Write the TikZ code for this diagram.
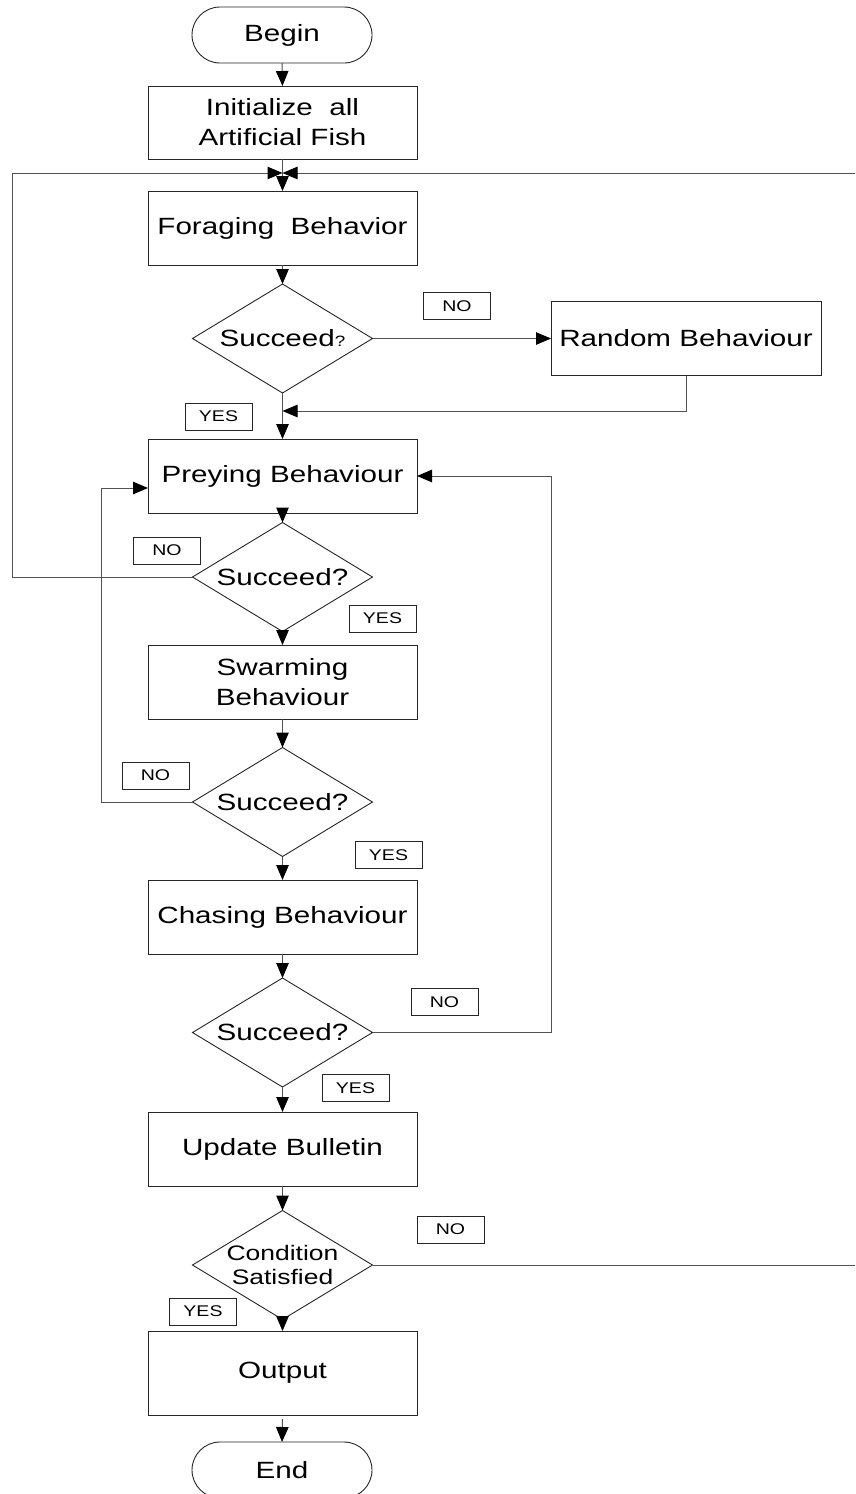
\documentclass[tikz,border=0pt]{standalone}
\usepackage{fontspec}
\setmainfont{Liberation Sans}[FakeStretch=1.26]
\usetikzlibrary{shapes.geometric,arrows.meta}
\begin{document}
\begin{tikzpicture}[x=1pt,y=-1pt,
  every node/.style={inner sep=0pt, outer sep=0pt},
  procbox/.style={draw=black!85, line width=0.9pt, minimum width=269pt, minimum height=74pt, align=center, font=\fontsize{23.5}{30}\selectfont},
  termbox/.style={draw=black!85, line width=0.9pt, rectangle, rounded corners=28pt, minimum width=180pt, minimum height=56pt, font=\fontsize{23.5}{30}\selectfont},
  decbox/.style={draw=black!85, line width=0.9pt, diamond, aspect=1.65, minimum width=180pt, minimum height=109pt, align=center, font=\fontsize{23.5}{30}\selectfont},
  tagbox/.style={draw=black!85, line width=0.9pt, minimum width=67pt, minimum height=27pt, font=\fontsize{15.5}{18}\selectfont},
  conn/.style={draw=black!68, line width=1pt},
  arr/.style={conn, -{Triangle[length=15pt,width=12.5pt,color=black]}}
]
\useasboundingbox (0,0) rectangle (855,1494);
\fill[white] (0,0) rectangle (855,1494);

% nodes
\node[termbox] (begin) at (282,35) {Begin};
\node[procbox, minimum height=73pt] (init) at (282.5,122.5) {Initialize~~all\\Artificial Fish};
\node[procbox] (forage) at (282.5,228) {Foraging~~Behavior};
\node[decbox] (d1) at (282.5,338.5) {Succeed{\fontsize{15}{15}\selectfont ?}};
\node[procbox, minimum width=270pt] (random) at (686,338.5) {Random Behaviour};
\node[procbox] (prey) at (282.5,476) {Preying Behaviour};
\node[decbox] (d2) at (282.5,577) {Succeed?};
\node[procbox] (swarm) at (282.5,682) {Swarming\\Behaviour};
\node[decbox] (d3) at (282.5,802) {Succeed?};
\node[procbox] (chase) at (282.5,917) {Chasing Behaviour};
\node[decbox] (d4) at (282.5,1032.5) {Succeed?};
\node[procbox] (update) at (282.5,1149) {Update Bulletin};
\node[decbox, font=\fontsize{21}{24}\selectfont] (d5) at (282.5,1265) {Condition\\Satisfied};
\node[procbox, minimum height=84pt] (output) at (282.5,1373) {Output};
\node[termbox] (end) at (282,1470) {End};

% tags
\node[tagbox] (no1) at (457,306) {NO};
\node[tagbox] (yes1) at (218.5,416.5) {YES};
\node[tagbox] (no2) at (167,550.5) {NO};
\node[tagbox] (yes2) at (382.5,618.5) {YES};
\node[tagbox] (no3) at (155.5,775.5) {NO};
\node[tagbox] (yes3) at (388.5,855) {YES};
\node[tagbox] (no4) at (444.5,1002) {NO};
\node[tagbox] (yes4) at (355.5,1088) {YES};
\node[tagbox] (no5) at (450.5,1229.5) {NO};
\node[tagbox] (yes5) at (203,1311.5) {YES};

% helper coordinates
\coordinate (J) at (282.5,173);
\coordinate (LT) at (12,173);
\coordinate (LB) at (12,577);
\coordinate (RT) at (855,173);
\coordinate (R5) at (855,1265);
\coordinate (J2) at (282.5,411);
\coordinate (RB) at (686,411);
\coordinate (P3a) at (101,802);
\coordinate (P3b) at (101,488);
\coordinate (P3) at (148,488);
\coordinate (P4a) at (551,1032.5);
\coordinate (P4b) at (551,476);

% connectors
\draw[arr] (begin.south) -- (init.north);
\draw[arr] (init.south) -- (forage.north);
\draw[arr] (d2.west) -- (LB) -- (LT) -- (J);
\draw[arr] (RT) -- (J);
\draw[arr] (forage.south) -- (d1.north);
\draw[arr] (d1.east) -- (random.west);
\draw[arr] (random.south) -- (RB) -- (J2);
\draw[arr] (d1.south) -- (prey.north);
\draw[arr] (prey.south) -- (d2.north);
\draw[arr] (d2.south) -- (swarm.north);
\draw[arr] (swarm.south) -- (d3.north);
\draw[arr] (d3.west) -- (P3a) -- (P3b) -- (P3);
\draw[arr] (d3.south) -- (chase.north);
\draw[arr] (chase.south) -- (d4.north);
\draw[arr] (d4.east) -- (P4a) -- (P4b) -- (prey.east);
\draw[arr] (d4.south) -- (update.north);
\draw[arr] (update.south) -- (d5.north);
\draw[arr] (d5.south) -- (output.north);
\draw[conn] (d5.east) -- (R5);
\draw[arr] ([yshift=-4pt]output.south) -- (end.north);
\end{tikzpicture}
\end{document}
